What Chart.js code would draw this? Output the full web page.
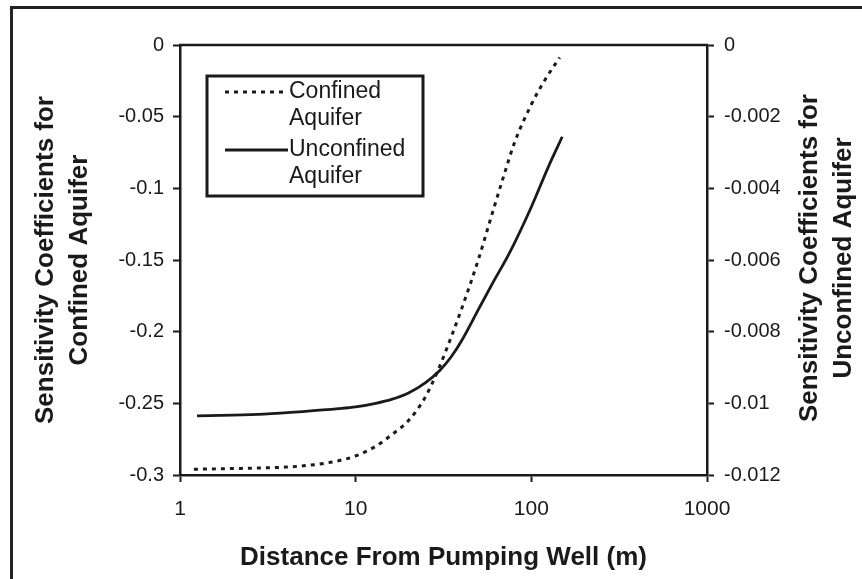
<!DOCTYPE html>
<html>
<head>
<meta charset="utf-8">
<script src="https://cdn.jsdelivr.net/npm/chart.js@4/dist/chart.umd.min.js"></script>
<style>
  html, body { margin: 0; padding: 0; background: #fff; }
  canvas { display: block; }
</style>
</head>
<body>
<canvas id="sensitivityCanvas" width="862" height="579"></canvas>
<script>
// distance from the pumping well (m) and sensitivity coefficients
const confinedDistance = [1.2, 2, 3, 4, 6, 8, 10, 13, 16, 20, 25, 30, 35, 40, 50, 60, 70, 80, 100, 120, 145];
const confinedCoef = [-0.296, -0.2955, -0.295, -0.2945, -0.2926, -0.290, -0.2867, -0.280, -0.272, -0.262,
    -0.2453, -0.2245, -0.2036, -0.1844, -0.1495, -0.1172, -0.0905, -0.0685, -0.0415, -0.024, -0.0088];

const unconfinedDistance = [1.25, 2, 3, 5, 8, 10, 13, 16, 20, 25, 30, 35, 40, 50, 60, 75, 100, 125, 150];
const unconfinedCoef = [-0.01035, -0.01033, -0.0103, -0.01023, -0.01015, -0.0101, -0.01, -0.00989,
    -0.00971, -0.00942, -0.00909, -0.0087, -0.00826, -0.00738, -0.00666, -0.00581, -0.00452, -0.0034, -0.00256];

const xTicks = [1, 10, 100, 1000];
const leftAxisTitle = ['Sensitivity Coefficients for', 'Confined Aquifer'];
const rightAxisTitle = ['Sensitivity Coefficients for', 'Unconfined Aquifer'];
const xAxisTitle = 'Distance From Pumping Well (m)';
const legendLabels = [['Confined', 'Aquifer'], ['Unconfined', 'Aquifer']];

const ink = '#1a1a1a';
const fontFamily = '"Liberation Sans", Arial, sans-serif';

const toPoints = (xs, ys) => xs.map((x, i) => ({ x: x, y: ys[i] }));
const trimNumber = v => String(Number(v.toFixed(4)));

// page frame, top edge of the plot box, legend and the right-hand title
const decorPlugin = {
    id: 'decor',
    beforeDraw(chart) {
        const ctx = chart.ctx;
        ctx.save();
        ctx.fillStyle = '#fff';
        ctx.fillRect(0, 0, chart.width, chart.height);
        ctx.fillStyle = '#222';
        ctx.fillRect(10, 6, 3, chart.height - 6);
        ctx.fillRect(10, 6, chart.width - 10, 3);
        ctx.restore();
    },
    afterDraw(chart) {
        const ctx = chart.ctx;
        const area = chart.chartArea;
        ctx.save();

        ctx.strokeStyle = ink;
        ctx.lineWidth = 2.5;
        ctx.beginPath();
        ctx.moveTo(area.left - 1, area.top);
        ctx.lineTo(area.right + 1, area.top);
        ctx.stroke();

        // legend box
        ctx.fillStyle = '#fff';
        ctx.fillRect(207, 76, 216, 120);
        ctx.lineWidth = 3;
        ctx.strokeRect(207, 76, 216, 120);

        ctx.lineWidth = 3;
        ctx.setLineDash([4, 5]);
        ctx.beginPath();
        ctx.moveTo(225, 92);
        ctx.lineTo(288, 92);
        ctx.stroke();
        ctx.setLineDash([]);
        ctx.lineWidth = 2.8;
        ctx.beginPath();
        ctx.moveTo(225, 150);
        ctx.lineTo(288, 150);
        ctx.stroke();

        ctx.fillStyle = ink;
        ctx.font = '23px ' + fontFamily;
        ctx.textAlign = 'left';
        ctx.textBaseline = 'middle';
        ctx.fillText(legendLabels[0][0], 289, 92);
        ctx.fillText(legendLabels[0][1], 289, 119);
        ctx.fillText(legendLabels[1][0], 289, 150);
        ctx.fillText(legendLabels[1][1], 289, 177);

        // right axis title, read bottom to top like the left one
        ctx.font = 'bold 26px ' + fontFamily;
        ctx.textAlign = 'center';
        ctx.translate(810, 258);
        ctx.rotate(-Math.PI / 2);
        ctx.fillText(rightAxisTitle[0], 0, 0);
        ctx.fillText(rightAxisTitle[1], 0, 34);
        ctx.restore();
    }
};

const tickGrid = {
    display: true,
    drawOnChartArea: false,
    drawTicks: true,
    tickLength: 7,
    tickWidth: 2,
    tickColor: ink
};

const sensitivityChart = new Chart(document.getElementById('sensitivityCanvas'), {
    type: 'line',
    data: {
        datasets: [
            {
                label: 'Confined Aquifer',
                data: toPoints(confinedDistance, confinedCoef),
                yAxisID: 'y',
                borderColor: ink,
                borderWidth: 3,
                borderDash: [4, 5],
                pointRadius: 0,
                cubicInterpolationMode: 'monotone',
                fill: false
            },
            {
                label: 'Unconfined Aquifer',
                data: toPoints(unconfinedDistance, unconfinedCoef),
                yAxisID: 'y1',
                borderColor: ink,
                borderWidth: 2.8,
                pointRadius: 0,
                cubicInterpolationMode: 'monotone',
                fill: false
            }
        ]
    },
    options: {
        responsive: false,
        animation: false,
        devicePixelRatio: 1,
        layout: { padding: { top: 45, left: 0, right: 0, bottom: 0 } },
        plugins: {
            legend: { display: false },
            tooltip: { enabled: false }
        },
        scales: {
            x: {
                type: 'logarithmic',
                min: 1,
                max: 1000,
                afterBuildTicks: scale => {
                    scale.ticks = xTicks.map(v => ({ value: v }));
                },
                afterFit: scale => { scale.height = 104; },
                ticks: {
                    color: ink,
                    font: { family: fontFamily, size: 21 },
                    padding: 15,
                    maxRotation: 0,
                    autoSkip: false,
                    callback: value => String(value)
                },
                grid: tickGrid,
                border: { color: ink, width: 2.5 },
                title: {
                    display: true,
                    text: xAxisTitle,
                    color: ink,
                    font: { family: fontFamily, size: 26, weight: 'bold', lineHeight: 1.2 },
                    padding: { top: 0, bottom: 6 }
                }
            },
            y: {
                position: 'left',
                min: -0.3,
                max: 0,
                afterFit: scale => { scale.width = 180; },
                ticks: {
                    stepSize: 0.05,
                    color: ink,
                    font: { family: fontFamily, size: 20 },
                    padding: 9,
                    callback: value => trimNumber(value)
                },
                grid: tickGrid,
                border: { color: ink, width: 2.5 },
                title: {
                    display: true,
                    text: leftAxisTitle,
                    color: ink,
                    font: { family: fontFamily, size: 26, weight: 'bold', lineHeight: 1.3 },
                    padding: { top: 29, bottom: 0 }
                }
            },
            y1: {
                position: 'right',
                min: -0.012,
                max: 0,
                afterFit: scale => { scale.width = 155; },
                ticks: {
                    stepSize: 0.002,
                    color: ink,
                    font: { family: fontFamily, size: 20 },
                    padding: 10,
                    callback: value => trimNumber(value)
                },
                grid: tickGrid,
                border: { color: ink, width: 2.5 }
            }
        }
    },
    plugins: [decorPlugin]
});
</script>
</body>
</html>
